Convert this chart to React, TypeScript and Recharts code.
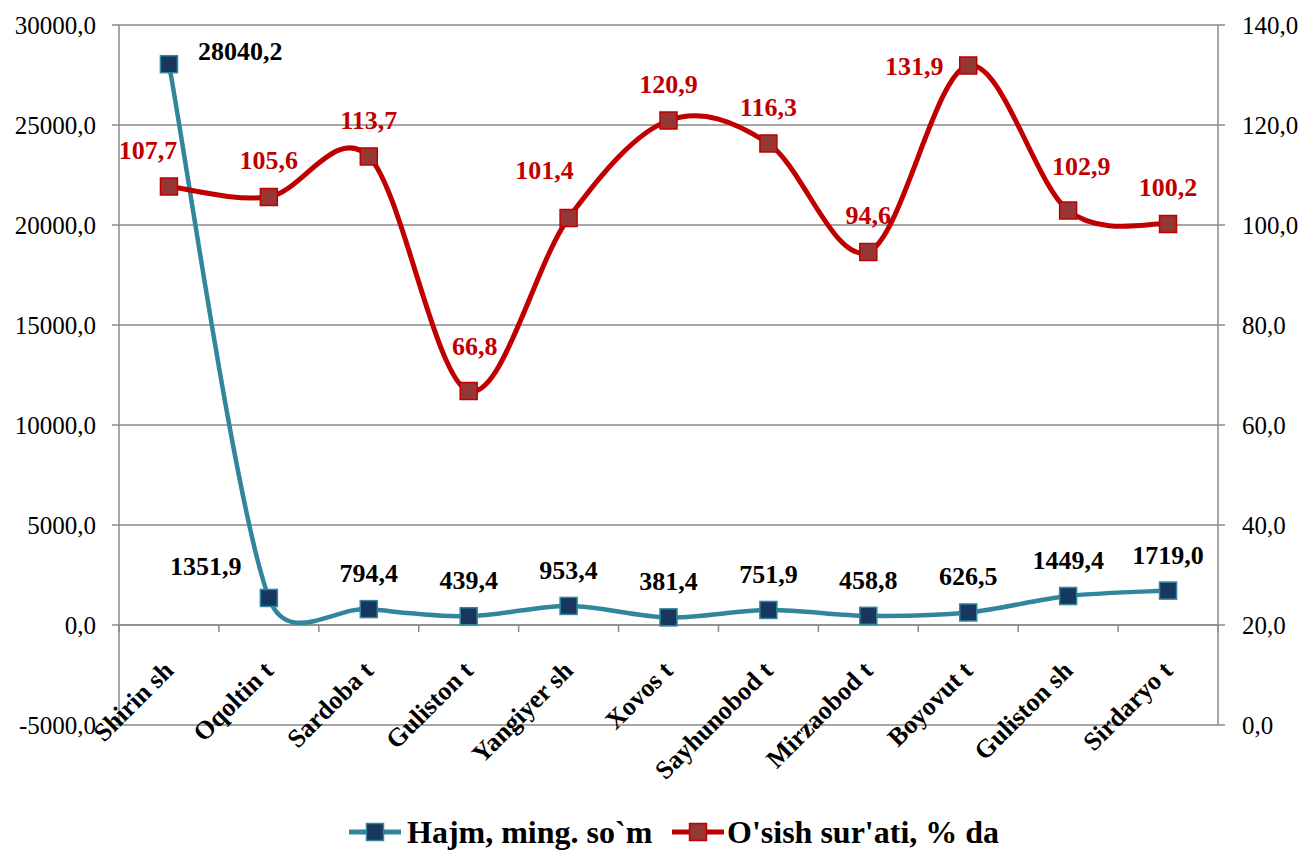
import React from 'react';
import { LineChart, Line, XAxis, YAxis, CartesianGrid, ReferenceLine, Legend } from 'recharts';

const categories = ['Shirin sh', 'Oqoltin t', 'Sardoba t', 'Guliston t', 'Yangiyer sh', 'Xovos t', 'Sayhunobod t', 'Mirzaobod t', 'Boyovut t', 'Guliston sh', 'Sirdaryo t'];
const hajmValues = [28040.2, 1351.9, 794.4, 439.4, 953.4, 381.4, 751.9, 458.8, 626.5, 1449.4, 1719.0];
const growthValues = [107.7, 105.6, 113.7, 66.8, 101.4, 120.9, 116.3, 94.6, 131.9, 102.9, 100.2];
const leftTicks = [-5000, 0, 5000, 10000, 15000, 20000, 25000, 30000];
const rightTicks = [0, 20, 40, 60, 80, 100, 120, 140];
const seriesNames = ['Hajm, ming. so`m', "O'sish sur'ati, % da"];

const data = categories.map((name, i) => ({ name, hajm: hajmValues[i], growth: growthValues[i] }));

const W = 1303;
const H = 852;
const LEFT_W = 119;
const RIGHT_W = 85;
const TOP = 25;
const LEGEND_H = 40;
const XAXIS_H = 87;
const PLOT_H = H - TOP - LEGEND_H - XAXIS_H;
const BAND = (W - LEFT_W - RIGHT_W) / categories.length;
const ZERO_UP = PLOT_H * 5000 / 35000;

const FONT = '"Liberation Serif", "Times New Roman", serif';
const GRID = '#8a8a8a';
const BLUE_LINE = '#31859C';
const BLUE_FILL = '#17375E';
const RED_LINE = '#C00000';
const RED_FILL = '#953735';

const fmt = (v: number) => v.toFixed(1).replace('.', ',');

// Excel-like smoothing curve
function excelCurve(context: any) {
  let pts: number[][] = [];
  return {
    areaStart() {},
    areaEnd() {},
    lineStart() { pts = []; },
    point(x: number, y: number) { pts.push([+x, +y]); },
    lineEnd() {
      if (!pts.length) return;
      context.moveTo(pts[0][0], pts[0][1]);
      const dist = (a: number[], b: number[]) => Math.hypot(a[0] - b[0], a[1] - b[1]);
      for (let i = 0; i < pts.length - 1; i++) {
        const p1 = pts[i];
        const p2 = pts[i + 1];
        const p0 = pts[i - 1] || p1;
        const p3 = pts[i + 2] || p2;
        const d01 = dist(p0, p1);
        const d12 = dist(p1, p2);
        const d23 = dist(p2, p3);
        const f1 = d01 > 0 ? Math.min(1 / 6, d12 / (2 * d01)) : 1 / 6;
        const f2 = d23 > 0 ? Math.min(1 / 6, d12 / (2 * d23)) : 1 / 6;
        const c1x = p1[0] + (p2[0] - p0[0]) * f1;
        const c1y = p1[1] + (p2[1] - p0[1]) * f1;
        const c2x = p2[0] - (p3[0] - p1[0]) * f2;
        const c2y = p2[1] - (p3[1] - p1[1]) * f2;
        context.bezierCurveTo(c1x, c1y, c2x, c2y, p2[0], p2[1]);
      }
    },
  };
}

const makeDot = (fill: string, stroke: string) => (props: any) => {
  const { cx, cy, index } = props;
  if (cx == null || cy == null) return <g key={`e-${index}`} />;
  return <rect key={`d-${fill}-${index}`} x={cx - 8.5} y={cy - 8.5} width={17} height={17} fill={fill} stroke={stroke} strokeWidth={1.5} />;
};

// label placement (style only): [dx, dy, anchor]
const blueLabelPos: Record<number, [number, number, string]> = {
  0: [29, -4, 'start'],
  1: [-63, -23, 'middle'],
};
const redLabelPos: Record<number, [number, number, string]> = {
  0: [-21, -28, 'middle'],
  3: [6, -36, 'middle'],
  4: [-24, -39, 'middle'],
  8: [-54, 9, 'middle'],
  9: [13, -36, 'middle'],
};

const makeLabel = (pos: Record<number, [number, number, string]>, color: string, defDy: number) => (props: any) => {
  const { x, y, value, index } = props;
  if (x == null || y == null) return null;
  const p = pos[index] || [0, defDy, 'middle'];
  return (
    <text key={`l-${color}-${index}`} x={x + p[0]} y={y + p[1]} textAnchor={p[2] as any} fill={color}
      fontFamily={FONT} fontWeight="bold" fontSize={26}>
      {fmt(Number(value))}
    </text>
  );
};

const XTick = (props: any) => {
  const { x, y, payload, index } = props;
  const zeroY = y - ZERO_UP;
  const lx = x + 6;
  const ly = zeroY + 47;
  return (
    <g>
      <line x1={x - BAND / 2} x2={x - BAND / 2} y1={zeroY} y2={zeroY + 7} stroke={GRID} strokeWidth={1.5} />
      {index === categories.length - 1 && (
        <line x1={x + BAND / 2} x2={x + BAND / 2} y1={zeroY} y2={zeroY + 7} stroke={GRID} strokeWidth={1.5} />
      )}
      <text x={lx} y={ly} transform={`rotate(-45 ${lx} ${ly})`} textAnchor="end" fill="#000"
        fontFamily={FONT} fontWeight="bold" fontSize={26}>
        {payload.value}
      </text>
    </g>
  );
};

const LegendSymbol = ({ line, fill }: { line: string; fill: string }) => (
  <svg width={54} height={22} style={{ display: 'block' }}>
    <line x1={1} x2={53} y1={11} y2={11} stroke={line} strokeWidth={5} />
    <rect x={18.5} y={2.5} width={17} height={17} fill={fill} stroke={line} strokeWidth={1.5} />
  </svg>
);

const LegendContent = () => (
  <div style={{ position: 'relative', width: W, height: LEGEND_H, fontFamily: FONT, fontWeight: 'bold', fontSize: 32, color: '#000' }}>
    <div style={{ position: 'absolute', left: 348, top: 9 }}><LegendSymbol line={BLUE_LINE} fill={BLUE_FILL} /></div>
    <div style={{ position: 'absolute', left: 407, top: 0, lineHeight: '40px', whiteSpace: 'nowrap' }}>{seriesNames[0]}</div>
    <div style={{ position: 'absolute', left: 671, top: 9 }}><LegendSymbol line={RED_LINE} fill={RED_FILL} /></div>
    <div style={{ position: 'absolute', left: 727, top: 0, lineHeight: '40px', whiteSpace: 'nowrap' }}>{seriesNames[1]}</div>
  </div>
);

export default function App() {
  return (
    <div style={{ position: 'absolute', left: 0, top: 0, width: W, height: H, background: '#fff' }}>
      <LineChart width={W} height={H} data={data} margin={{ top: TOP, right: 0, bottom: 0, left: 0 }}>
        <CartesianGrid yAxisId="left" vertical={false} stroke={GRID} strokeWidth={1.5} />
        <XAxis dataKey="name" scale="band" padding={{ left: 0, right: 0 }} height={XAXIS_H} interval={0}
          axisLine={false} tickLine={false} tickSize={0} tickMargin={0} tick={<XTick />} />
        <YAxis yAxisId="left" width={LEFT_W} domain={[-5000, 30000]} ticks={leftTicks} interval={0}
          allowDataOverflow tickFormatter={fmt} tickSize={7} tickMargin={16}
          tickLine={{ stroke: GRID, strokeWidth: 1.5 }} axisLine={{ stroke: GRID, strokeWidth: 1.5 }}
          tick={{ fill: '#000', fontFamily: FONT, fontSize: 25 }} />
        <YAxis yAxisId="right" orientation="right" width={RIGHT_W} domain={[0, 140]} ticks={rightTicks} interval={0}
          allowDataOverflow tickFormatter={fmt} tickSize={7} tickMargin={17}
          tickLine={{ stroke: GRID, strokeWidth: 1.5 }} axisLine={{ stroke: GRID, strokeWidth: 1.5 }}
          tick={{ fill: '#000', fontFamily: FONT, fontSize: 25 }} />
        <ReferenceLine yAxisId="left" y={0} stroke={GRID} strokeWidth={1.5} />
        <Legend verticalAlign="bottom" content={<LegendContent />} wrapperStyle={{ left: 0, bottom: 0, width: W, height: LEGEND_H }} />
        <Line yAxisId="left" dataKey="hajm" name={seriesNames[0]} type={excelCurve as any} stroke={BLUE_LINE} strokeWidth={4.5}
          dot={makeDot(BLUE_FILL, BLUE_LINE)} label={makeLabel(blueLabelPos, '#000', -27)} isAnimationActive={false} />
        <Line yAxisId="right" dataKey="growth" name={seriesNames[1]} type={excelCurve as any} stroke={RED_LINE} strokeWidth={5}
          dot={makeDot(RED_FILL, RED_LINE)} label={makeLabel(redLabelPos, RED_LINE, -28)} isAnimationActive={false} />
      </LineChart>
    </div>
  );
}
